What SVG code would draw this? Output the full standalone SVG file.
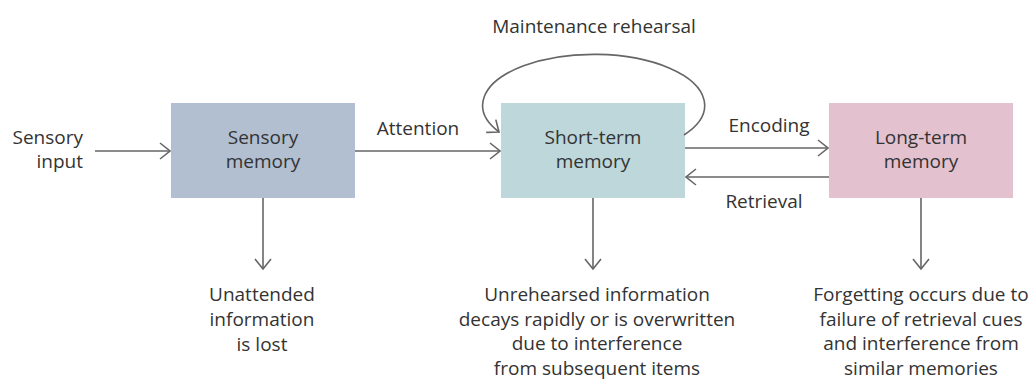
<svg xmlns="http://www.w3.org/2000/svg" width="1036" height="381" viewBox="0 0 1036 381">
<style>
text{font-family:"Open Sans","Noto Sans","Liberation Sans",sans-serif;font-size:19px;fill:#333;}
.c{text-anchor:middle;}
.e{text-anchor:end;}
.ln{stroke:#666;stroke-width:1.6;fill:none;}
</style>
<defs>
<marker id="ah" viewBox="0 0 12 18" refX="11" refY="9" markerWidth="12" markerHeight="18" markerUnits="userSpaceOnUse" orient="auto">
<path d="M1,1 L11,9 L1,17" fill="none" stroke="#666" stroke-width="1.6"/>
</marker>
</defs>
<rect width="1036" height="381" fill="#fff"/>
<g id="input">
<text class="e" x="83" y="144">Sensory</text>
<text class="e" x="83" y="168">input</text>
</g>
<g id="sensory">
<rect x="171" y="103" width="184" height="95" fill="#b1bfd1"/>
<text class="c" x="263" y="144">Sensory</text>
<text class="c" x="263" y="168">memory</text>
</g>
<g id="shortterm">
<rect x="501" y="103" width="184" height="95" fill="#bdd7db"/>
<text class="c" x="593" y="144">Short-term</text>
<text class="c" x="593" y="168">memory</text>
</g>
<g id="longterm">
<rect x="829" y="103" width="184" height="95" fill="#e3c1cf"/>
<text class="c" x="921" y="144">Long-term</text>
<text class="c" x="921" y="168">memory</text>
</g>
<g id="lost">
<text class="c" x="262" y="301">Unattended</text>
<text class="c" x="262" y="326">information</text>
<text class="c" x="262" y="351">is lost</text>
</g>
<g id="decay">
<text class="c" x="597" y="301">Unrehearsed information</text>
<text class="c" x="597" y="325.5">decays rapidly or is overwritten</text>
<text class="c" x="597" y="350">due to interference</text>
<text class="c" x="597" y="374.5">from subsequent items</text>
</g>
<g id="forget">
<text class="c" x="921" y="301">Forgetting occurs due to</text>
<text class="c" x="921" y="325.5">failure of retrieval cues</text>
<text class="c" x="921" y="350">and interference from</text>
<text class="c" x="921" y="374.5">similar memories</text>
</g>
<g id="connectors">
<line class="ln" x1="95" y1="151" x2="170" y2="151" marker-end="url(#ah)"/>
<line class="ln" x1="355" y1="151" x2="500" y2="151" marker-end="url(#ah)"/>
<line class="ln" x1="685" y1="148" x2="828" y2="148" marker-end="url(#ah)"/>
<line class="ln" x1="829" y1="177" x2="686" y2="177" marker-end="url(#ah)"/>
<path class="ln" d="M684,135 A111 51 0 1 0 499,132" marker-end="url(#ah)"/>
<line class="ln" x1="263" y1="198" x2="263" y2="269" marker-end="url(#ah)"/>
<line class="ln" x1="593" y1="198" x2="593" y2="269" marker-end="url(#ah)"/>
<line class="ln" x1="921" y1="198" x2="921" y2="269" marker-end="url(#ah)"/>
<text class="c" x="418" y="135">Attention</text>
<text class="c" x="769" y="132">Encoding</text>
<text class="c" x="764" y="208">Retrieval</text>
<text class="c" x="594" y="33">Maintenance rehearsal</text>
</g>
</svg>
